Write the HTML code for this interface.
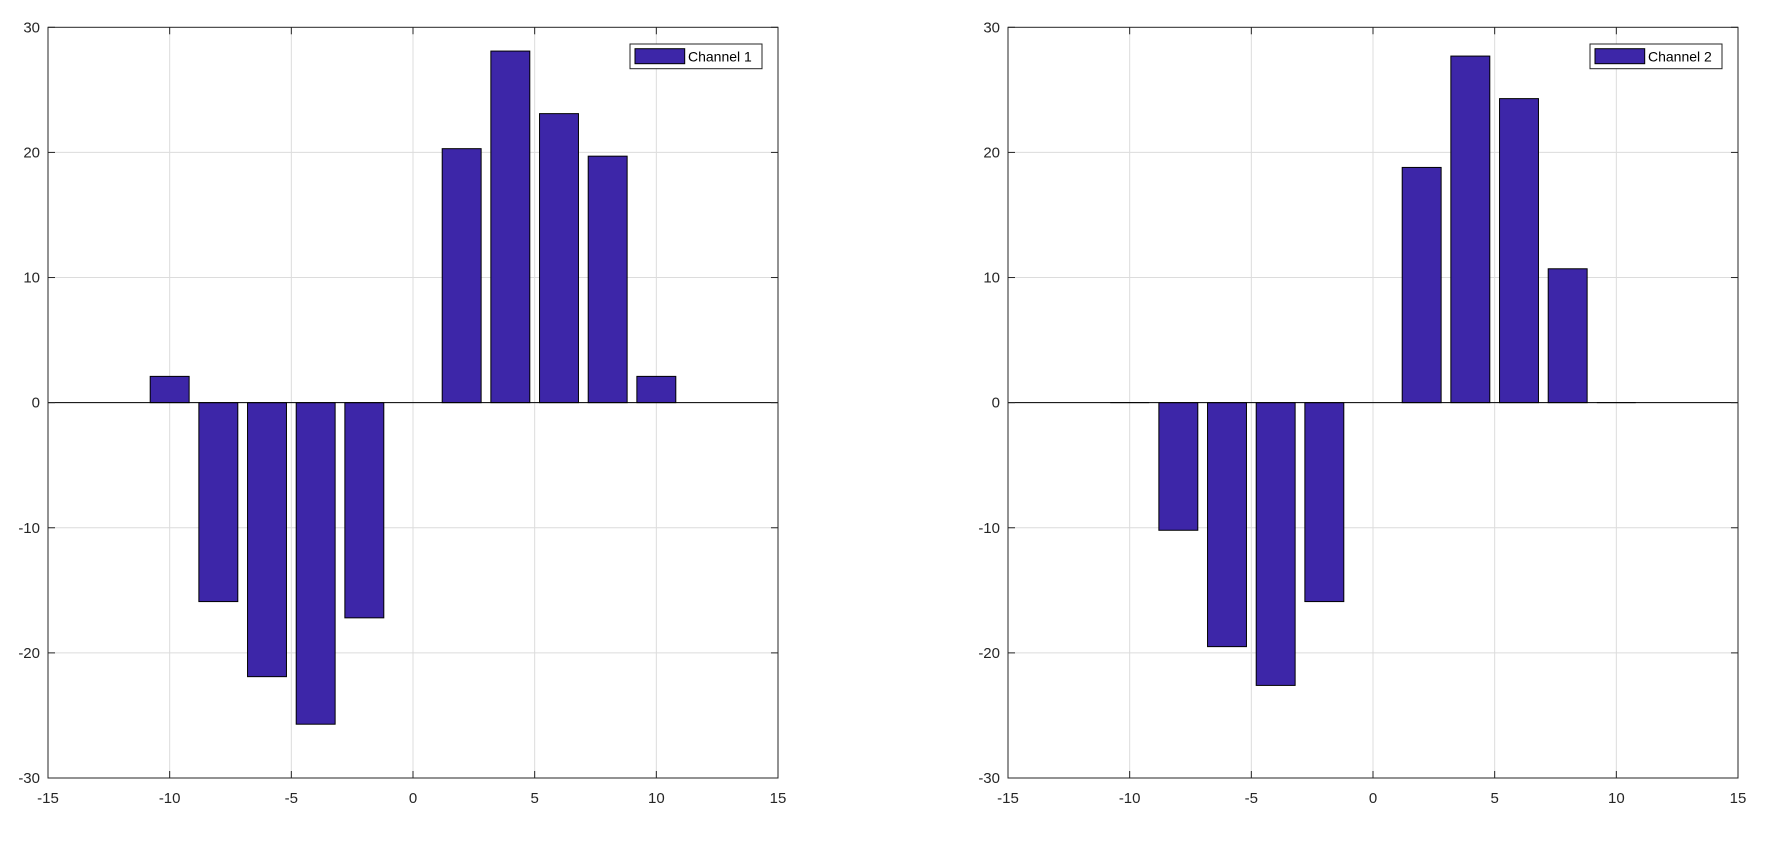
<!DOCTYPE html>
<html><head><meta charset="utf-8"><style>body{margin:0;background:#fff}svg{display:block}text{font-family:"Liberation Sans",sans-serif;font-size:15px;fill:#262626}</style></head>
<body><svg id="s" width="1787" height="848" xmlns="http://www.w3.org/2000/svg"></svg>
<script>
const s=document.getElementById('s');let h='';
const T=27.3,B=778,Y0=(T+B)/2,ky=(B-T)/60;
function panel(L,vals,name){
 const W=730,kx=W/30,R=L+W;
 const X=v=>L+(v+15)*kx,Y=v=>Y0-v*ky;
 // grid
 for(let v=-10;v<=10;v+=5)h+=`<line x1="${X(v)}" y1="${T}" x2="${X(v)}" y2="${B}" stroke="#dcdcdc"/>`;
 for(let v=-20;v<=20;v+=10)h+=`<line x1="${L}" y1="${Y(v)}" x2="${R}" y2="${Y(v)}" stroke="#dcdcdc"/>`;
 // bars
 vals.forEach((v,i)=>{const c=-10+2*i,x0=X(c-0.8),w=1.6*kx;
  if(v===0){ if(c!==0) h+=`<line x1="${x0}" y1="${Y0}" x2="${x0+w}" y2="${Y0}" stroke="#000"/>`;return;}
  const y1=Math.min(Y(v),Y0),hh=Math.abs(Y(v)-Y0);
  h+=`<rect x="${x0}" y="${y1}" width="${w}" height="${hh}" fill="#3d26a8" stroke="#000" stroke-width="1"/>`;});
 h+=`<line x1="${L}" y1="${Y0}" x2="${R}" y2="${Y0}" stroke="#000"/>`;
 h+=`<rect x="${L}" y="${T}" width="${W}" height="${B-T}" fill="none" stroke="#262626"/>`;
 for(let v=-15;v<=15;v+=5){h+=`<line x1="${X(v)}" y1="${B}" x2="${X(v)}" y2="${B-7}" stroke="#262626"/><line x1="${X(v)}" y1="${T}" x2="${X(v)}" y2="${T+7}" stroke="#262626"/>`;
  h+=`<text x="${X(v)}" y="${B+25}" text-anchor="middle">${v}</text>`;}
 for(let v=-30;v<=30;v+=10){h+=`<line x1="${L}" y1="${Y(v)}" x2="${L+7}" y2="${Y(v)}" stroke="#262626"/><line x1="${R}" y1="${Y(v)}" x2="${R-7}" y2="${Y(v)}" stroke="#262626"/>`;
  h+=`<text x="${L-8}" y="${Y(v)+5}" text-anchor="end">${v}</text>`;}
 const lx=R-148;
 h+=`<rect x="${lx}" y="44" width="132" height="24.7" fill="#fff" stroke="#262626"/>`;
 h+=`<rect x="${lx+5}" y="48.7" width="49.7" height="15" fill="#3d26a8" stroke="#000"/>`;
 h+=`<text x="${lx+58}" y="61.5" style="font-size:14px;fill:#000">${name}</text>`;
}
panel(48,[2.1,-15.9,-21.9,-25.7,-17.2,0,20.3,28.1,23.1,19.7,2.1],'Channel 1');
panel(1008,[0,-10.2,-19.5,-22.6,-15.9,0,18.8,27.7,24.3,10.7,0],'Channel 2');
s.innerHTML=h;
</script></body></html>
